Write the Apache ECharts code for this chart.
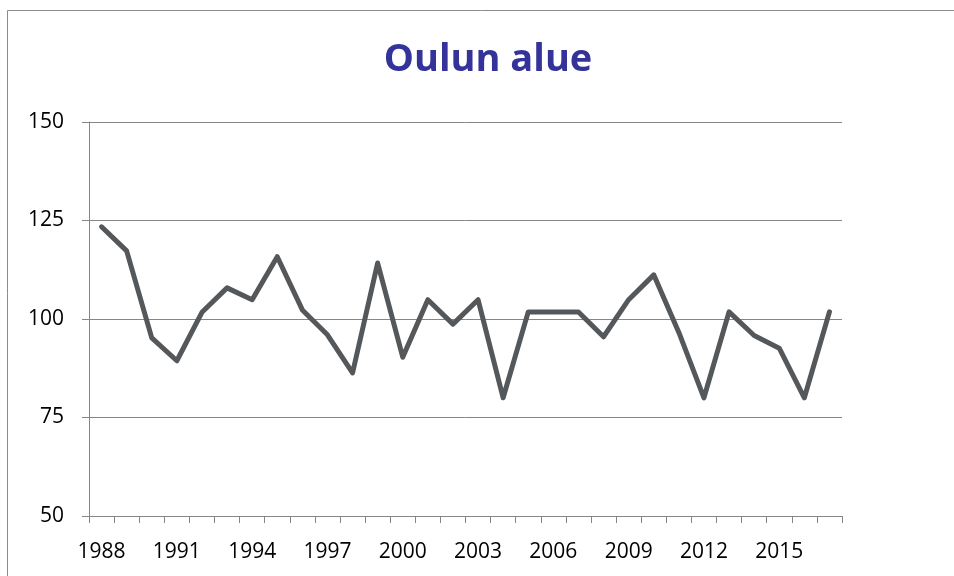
<!DOCTYPE html>
<html>
<head>
<meta charset="utf-8">
<script src="https://cdn.jsdelivr.net/npm/echarts@6/dist/echarts.min.js"></script>
<style>
html,body{margin:0;padding:0;background:#fff;}
#chart{width:954px;height:576px;}
</style>
</head>
<body>
<div id="chart"></div>
<script>
const titleText = 'Oulun alue';
const years = ['1988','1989','1990','1991','1992','1993','1994','1995','1996','1997',
               '1998','1999','2000','2001','2002','2003','2004','2005','2006','2007',
               '2008','2009','2010','2011','2012','2013','2014','2015','2016','2017'];
const values = [123.4,117.3,95.2,89.4,101.7,107.9,104.9,115.8,102.3,96.0,
                86.3,114.2,90.3,104.9,98.7,104.9,80.0,101.8,101.8,101.8,
                95.5,104.9,111.2,96.6,80.0,101.8,95.8,92.6,80.0,101.8];
const yMin = 50, yMax = 150, yStep = 25;

const chart = echarts.init(document.getElementById('chart'), null, {renderer:'canvas'});
const axisGray = '#868686';
chart.setOption({
  animation: false,
  backgroundColor: '#ffffff',
  graphic: [
    {type:'rect', shape:{x:7.5, y:10.5, width:1000, height:1000}, style:{fill:'none', stroke:'#8c8c8c', lineWidth:1}, silent:true},
    {type:'text', x:488, y:60, style:{text:titleText, fill:'#333399', font:'bold 38px "Open Sans"', align:'center', verticalAlign:'middle'}}
  ],
  grid: {left:89, right:112, top:122, bottom:60, containLabel:false},
  xAxis: {
    type:'category',
    data: years,
    boundaryGap: true,
    axisLine: {show:true, lineStyle:{color:axisGray, width:1}},
    axisTick: {show:true, interval:0, length:7, lineStyle:{color:axisGray}},
    axisLabel: {interval:2, margin:26, color:'#000', fontFamily:'Open Sans', fontSize:21},
    splitLine: {show:false}
  },
  yAxis: {
    type:'value',
    min: yMin, max: yMax, interval: yStep,
    axisLine: {show:true, lineStyle:{color:axisGray, width:1}},
    axisTick: {show:true, length:7, lineStyle:{color:axisGray}},
    axisLabel: {margin:25, color:'#000', fontFamily:'Open Sans', fontSize:21},
    splitLine: {show:true, lineStyle:{color:axisGray, width:1}}
  },
  series: [{
    type:'line',
    data: values,
    symbol:'none',
    lineStyle:{color:'#55585b', width:5, join:'round', cap:'round'},
    itemStyle:{color:'#55585b'}
  }]
});
</script>
</body>
</html>
